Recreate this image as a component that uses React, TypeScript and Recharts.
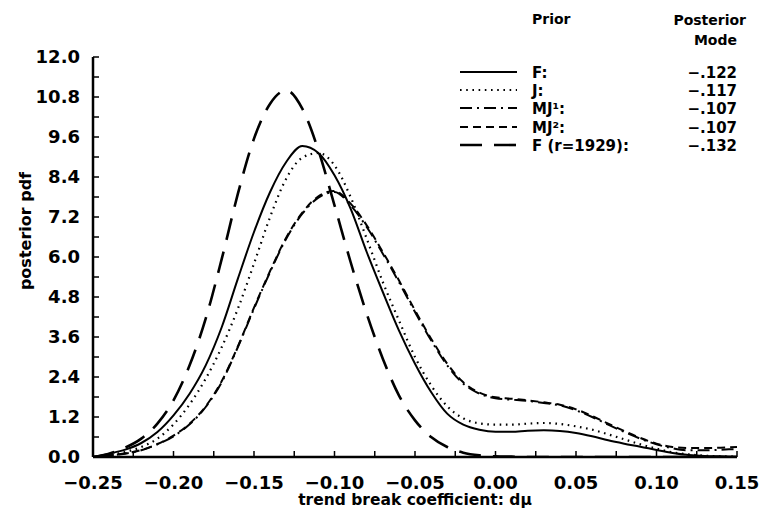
import React from 'react';
import { LineChart, Line, XAxis, YAxis } from 'recharts';

// x grid: trend break coefficient dμ
const xs = [
  -0.25, -0.24, -0.23, -0.22, -0.21, -0.2, -0.19, -0.18, -0.17, -0.16, -0.15,
  -0.14, -0.13, -0.12, -0.11, -0.1, -0.09, -0.08, -0.07, -0.06, -0.05,
  -0.04, -0.03, -0.02, -0.01, 0.0, 0.01, 0.02, 0.03, 0.04, 0.05,
  0.06, 0.07, 0.08, 0.09, 0.1, 0.11, 0.12, 0.13, 0.14, 0.15,
];

const priorF = [
  0.0, 0.1, 0.22, 0.42, 0.75, 1.25, 1.9, 2.75, 3.9, 5.35, 6.75,
  7.95, 8.85, 9.33, 9.12, 8.45, 7.45, 6.15, 4.95, 3.8, 2.8,
  1.95, 1.3, 0.97, 0.82, 0.76, 0.76, 0.79, 0.8, 0.78, 0.72,
  0.62, 0.5, 0.4, 0.31, 0.21, 0.12, 0.06, 0.03, 0.02, 0.01,
];

const priorJ = [
  0.0, 0.06, 0.15, 0.3, 0.55, 0.98, 1.58, 2.35, 3.3, 4.45, 5.8,
  7.2, 8.35, 8.98, 9.12, 8.75, 7.8, 6.55, 5.25, 4.1, 3.0,
  2.15, 1.52, 1.16, 1.01, 0.97, 0.97, 1.0, 1.02, 0.99, 0.92,
  0.82, 0.68, 0.53, 0.38, 0.25, 0.14, 0.08, 0.04, 0.02, 0.01,
];

const priorMJ1 = [
  0.0, 0.04, 0.1, 0.2, 0.38, 0.62, 0.98, 1.5, 2.25, 3.3, 4.45,
  5.55, 6.55, 7.3, 7.78, 7.95, 7.55, 6.9, 6.1, 5.25, 4.35,
  3.5, 2.75, 2.2, 1.9, 1.76, 1.72, 1.68, 1.62, 1.55, 1.4,
  1.2, 0.97, 0.75, 0.55, 0.38, 0.26, 0.2, 0.2, 0.22, 0.24,
];

const priorMJ2 = [
  0.0, 0.05, 0.11, 0.21, 0.39, 0.64, 1.0, 1.52, 2.28, 3.32, 4.48,
  5.58, 6.58, 7.33, 7.82, 7.98, 7.6, 6.95, 6.15, 5.3, 4.4,
  3.55, 2.8, 2.24, 1.93, 1.79, 1.75, 1.7, 1.64, 1.57, 1.43,
  1.23, 1.0, 0.78, 0.57, 0.4, 0.3, 0.27, 0.27, 0.28, 0.3,
];

const priorFr1929 = [
  0.0, 0.1, 0.28, 0.55, 1.0, 1.7, 2.75, 4.15, 5.95, 7.9, 9.55,
  10.6, 11.0, 10.45, 9.2, 7.55, 5.85, 4.3, 2.95, 1.85, 1.1,
  0.6, 0.3, 0.13, 0.05, 0.02, 0.01, 0.0, 0.0, 0.0, 0.0,
  0.0, 0.0, 0.0, 0.0, 0.0, 0.0, 0.0, 0.0, 0.0, 0.0,
];

const xTicks = [
  -0.25, -0.225, -0.2, -0.175, -0.15, -0.125, -0.1, -0.075, -0.05, -0.025,
  0, 0.025, 0.05, 0.075, 0.1, 0.125, 0.15,
];
const yTicks = [
  0, 0.6, 1.2, 1.8, 2.4, 3.0, 3.6, 4.2, 4.8, 5.4, 6.0, 6.6, 7.2, 7.8, 8.4,
  9.0, 9.6, 10.2, 10.8, 11.4, 12.0,
];

const legendNames = ['F:', 'J:', 'MJ¹:', 'MJ²:', 'F (r=1929):'];
const legendModes = ['−.122', '−.117', '−.107', '−.107', '−.132'];

const data = xs.map((x, i) => ({
  x,
  F: priorF[i],
  J: priorJ[i],
  MJ1: priorMJ1[i],
  MJ2: priorMJ2[i],
  Fr: priorFr1929[i],
}));

const FONT = '"DejaVu Sans", sans-serif';

const styles = [
  { key: 'F', dash: undefined as string | undefined, width: 2 },
  { key: 'J', dash: '1.6 4.6', width: 2.2 },
  { key: 'MJ1', dash: '12 5 2 5', width: 2 },
  { key: 'MJ2', dash: '8 5', width: 2 },
  { key: 'Fr', dash: '22 12', width: 2.6 },
];

const fmtX = (v: number, i: number) => {
  if (i % 2 !== 0) return '';
  const s = Math.abs(v).toFixed(2);
  return v < -1e-9 ? '−' + s : s;
};
const fmtY = (v: number, i: number) => (i % 2 === 0 ? v.toFixed(1) : '');

export default function App() {
  const rowY = [72, 90, 108, 127, 145];
  return (
    <div style={{ position: 'absolute', left: 0, top: 0, width: 763, height: 510, background: '#fff' }}>
      <LineChart
        width={763}
        height={510}
        data={data}
        margin={{ top: 57, right: 26, left: 0, bottom: 0 }}
      >
        <XAxis
          type="number"
          dataKey="x"
          domain={[-0.25, 0.15]}
          ticks={xTicks}
          interval={0}
          tickFormatter={fmtX}
          height={53}
          tickSize={-6}
          tickMargin={25}
          axisLine={{ stroke: '#000', strokeWidth: 2.5 }}
          tickLine={{ stroke: '#000', strokeWidth: 1.5 }}
          tick={{ fill: '#000', fontSize: 18, fontWeight: 'bold', fontFamily: FONT }}
          allowDataOverflow
        />
        <YAxis
          type="number"
          domain={[0, 12]}
          ticks={yTicks}
          interval={0}
          tickFormatter={fmtY}
          width={93}
          tickSize={-6}
          tickMargin={19}
          axisLine={{ stroke: '#000', strokeWidth: 2.5 }}
          tickLine={{ stroke: '#000', strokeWidth: 1.5 }}
          tick={{ fill: '#000', fontSize: 18, fontWeight: 'bold', fontFamily: FONT }}
          allowDataOverflow
        />
        {styles.map((s) => (
          <Line
            key={s.key}
            type="monotone"
            dataKey={s.key}
            stroke="#000"
            strokeWidth={s.width}
            strokeDasharray={s.dash}
            dot={false}
            activeDot={false}
            isAnimationActive={false}
          />
        ))}
      </LineChart>
      <svg
        width={763}
        height={510}
        style={{ position: 'absolute', left: 0, top: 0, pointerEvents: 'none' }}
      >
        <g fontFamily={FONT} fontWeight="bold" fill="#000">
          <text x={25} y={231} fontSize={16} textAnchor="middle" dominantBaseline="central" transform="rotate(-90 25 231)">
            posterior pdf
          </text>
          <text x={415} y={505} fontSize={15.5} textAnchor="middle">
            trend break coefficient: dμ
          </text>
          <text x={532} y={24} fontSize={14}>Prior</text>
          <text x={746} y={25} fontSize={14} textAnchor="end">Posterior</text>
          <text x={737} y={45} fontSize={14} textAnchor="end">Mode</text>
          {legendNames.map((n, i) => (
            <g key={n}>
              <line
                x1={460}
                x2={517}
                y1={rowY[i]}
                y2={rowY[i]}
                stroke="#000"
                strokeWidth={styles[i].width}
                strokeDasharray={styles[i].dash}
              />
              <text x={532} y={rowY[i] + 6} fontSize={15}>{n}</text>
              <text x={737} y={rowY[i] + 6} fontSize={15} textAnchor="end">{legendModes[i]}</text>
            </g>
          ))}
        </g>
      </svg>
    </div>
  );
}
